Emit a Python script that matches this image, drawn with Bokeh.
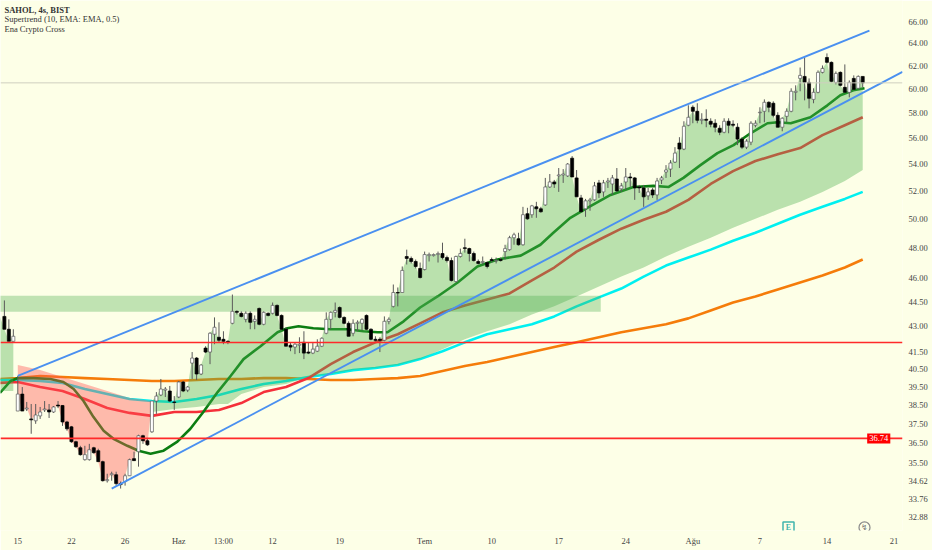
from bokeh.plotting import figure
from bokeh.models import Range1d, FixedTicker, NumeralTickFormatter, Span, Label
from bokeh.embed import file_html
from bokeh.resources import INLINE

bars = list(range(-3, 190))
opens = [43.61,42.83,42.11,
38.18,39.10,38.29,37.76,37.66,37.92,38.24,38.24,38.13,38.50,
38.48,37.60,37.34,36.57,36.26,35.66,35.66,36.26,36.11,35.56,
34.62,34.91,34.91,34.48,34.58,34.86,35.71,36.06,36.88,36.62,
37.08,38.72,39.05,39.32,39.27,38.67,38.94,39.77,39.32,40.84,
41.13,40.22,41.71,41.48,42.53,42.35,42.23,42.11,43.19,43.92,
43.80,43.43,43.80,43.31,44.10,43.13,43.80,43.80,44.29,43.67,
42.83,41.88,41.77,41.88,42.05,41.48,41.42,41.53,41.82,42.59,
43.43,43.86,44.16,43.55,43.19,42.59,43.19,43.19,43.67,42.83,
42.23,42.23,42.17,43.31,44.23,45.10,45.10,47.44,47.31,47.11,
46.65,46.58,47.50,47.50,47.57,47.64,47.37,47.17,45.80,47.44,
48.03,47.97,47.64,47.11,47.04,47.04,47.24,47.14,47.24,47.77,
47.90,48.71,48.64,48.23,50.38,50.31,50.87,50.73,51.01,52.31,
52.68,53.13,53.20,53.13,54.47,52.98,51.51,50.73,51.30,51.37,
52.61,51.95,52.68,52.53,52.90,52.17,52.68,53.05,52.98,52.31,
52.24,51.66,52.09,51.73,52.83,53.42,53.64,54.17,55.64,55.17,
57.05,58.51,58.18,57.45,57.53,57.37,57.21,56.81,56.49,57.37,
57.13,56.89,55.95,55.32,55.71,57.05,58.06,58.18,58.92,58.84,
57.85,56.89,57.77,58.18,59.75,60.93,61.10,60.59,59.16,59.75,
61.45,62.75,62.32,60.59,61.45,60.17,59.75,60.93,60.09,61.10]
highs = [44.60,43.43,42.83,
40.11,39.49,38.67,38.56,38.56,38.40,38.72,38.56,38.45,38.72,
38.50,37.66,37.39,36.62,36.36,36.36,36.46,36.31,36.21,35.61,
34.96,35.06,35.06,34.58,34.96,35.71,36.06,36.93,36.93,36.72,
38.72,39.21,39.94,39.49,39.55,38.99,39.83,39.83,39.55,41.48,
41.19,40.78,41.82,42.65,43.55,43.25,42.71,42.17,44.97,43.98,
43.92,43.92,43.92,43.67,44.16,43.92,43.86,44.47,44.35,43.73,
42.95,42.05,42.05,42.35,42.71,42.05,42.05,42.23,42.35,43.86,
43.92,44.47,44.23,43.61,43.31,43.43,43.37,43.49,43.73,42.89,
42.41,42.35,43.61,43.55,45.61,45.42,46.78,47.90,47.44,47.24,
47.04,47.77,47.70,47.64,47.77,48.37,47.50,47.37,47.50,47.97,
48.64,48.03,47.77,47.24,47.44,47.11,47.37,47.37,47.37,48.23,
48.84,49.05,49.05,50.87,50.80,51.01,51.23,50.87,52.98,53.27,
52.83,53.72,53.64,54.10,54.63,53.57,51.73,51.44,51.51,52.68,
52.83,52.83,52.98,53.20,53.72,52.61,53.72,53.35,53.05,52.46,
52.46,52.24,52.24,52.98,53.13,53.94,54.32,55.32,56.10,57.37,
58.67,58.67,58.84,58.02,58.34,57.61,57.53,57.05,57.61,57.61,
57.45,57.21,56.10,55.95,57.37,57.45,58.51,59.16,59.00,59.00,
58.10,57.69,58.42,60.09,60.34,61.87,62.75,60.93,60.09,61.62,
62.05,63.11,62.40,61.53,61.53,62.14,60.76,61.19,61.19,61.10]
lows = [42.83,42.11,42.11,
38.18,38.18,38.18,36.98,37.50,37.76,38.13,37.81,38.08,38.34,
37.39,37.14,36.51,36.26,35.86,35.61,35.61,35.96,35.56,34.58,
34.53,34.62,34.38,34.24,34.38,34.86,35.61,35.31,36.46,36.36,
37.03,38.03,38.99,38.94,38.67,38.24,38.88,39.21,39.21,39.94,
39.88,40.16,41.42,40.78,41.94,42.05,41.94,41.94,43.13,43.73,
43.55,43.25,42.83,42.83,43.07,43.07,43.61,43.73,43.61,42.77,
41.82,41.53,41.36,41.42,41.07,41.36,41.36,41.48,41.77,42.53,
42.83,43.55,43.49,43.13,42.41,42.41,42.71,42.77,42.77,42.17,
42.11,41.48,42.11,43.13,44.16,44.23,45.10,46.91,46.98,46.65,
46.00,46.52,47.11,47.44,47.04,47.24,47.04,45.80,45.74,47.37,
47.70,47.11,47.11,46.91,46.91,46.65,47.04,46.98,47.11,47.24,
47.83,48.23,48.17,48.17,49.95,50.09,50.09,50.45,50.94,52.24,
52.24,51.95,52.61,53.05,53.05,51.59,50.52,50.16,50.59,51.30,
51.51,51.59,52.24,51.73,51.95,51.95,52.09,52.31,51.37,51.87,
50.87,51.37,51.51,51.37,52.53,52.98,53.05,54.10,53.72,55.09,
56.97,57.21,57.21,57.13,56.89,56.89,56.49,56.26,56.41,56.41,
56.89,55.48,55.17,55.17,55.48,56.89,57.21,57.29,58.10,57.69,
56.89,56.57,57.29,58.10,59.08,59.84,59.08,58.42,58.84,59.67,
61.36,62.23,60.59,60.42,60.26,59.75,59.33,59.92,60.00,60.17]
closes = [42.83,42.11,42.41,
39.10,38.18,38.34,37.71,37.97,38.13,38.29,38.13,38.40,38.45,
37.60,37.24,36.57,36.31,35.91,35.91,36.16,36.01,35.56,34.62,
34.67,34.96,34.48,34.43,34.86,35.66,35.61,36.88,36.62,36.41,
38.72,38.99,39.38,39.38,38.72,38.64,39.77,39.27,39.49,41.13,
40.22,40.73,41.48,42.59,42.95,42.17,42.11,42.05,43.92,43.86,
43.61,43.80,43.25,43.43,43.13,43.86,43.67,44.29,43.67,42.83,
41.82,41.77,41.94,41.94,41.42,41.42,41.65,41.82,42.29,43.43,
43.86,43.98,43.55,43.19,42.41,43.19,43.25,43.43,42.83,42.23,
42.17,42.17,43.31,43.43,45.10,45.07,46.52,47.31,47.11,46.78,
46.06,47.57,47.57,47.57,47.64,47.37,47.17,45.87,47.44,47.64,
47.97,47.64,47.17,46.98,47.11,46.78,47.17,47.17,47.17,47.97,
48.71,48.91,48.23,50.31,50.02,50.94,50.73,50.52,52.31,52.68,
52.53,53.20,53.27,54.02,53.05,51.59,50.52,51.30,51.37,52.39,
51.87,52.61,52.75,52.98,52.02,52.39,53.05,52.98,52.24,52.24,
51.59,51.95,51.73,52.75,52.98,53.57,54.10,54.86,55.17,56.97,
57.69,58.18,57.45,57.53,57.45,57.13,56.89,56.49,57.37,57.05,
57.05,55.95,55.32,55.79,57.21,57.21,58.10,58.92,58.51,57.85,
56.89,57.61,58.18,59.84,59.84,61.19,60.59,59.25,59.75,61.45,
61.79,62.32,60.68,61.36,60.34,59.75,60.59,60.00,61.10,60.55]

ma_bars = [-4] + list(range(0, 190, 5)) + [189]
ma_red = [39.72,39.77,39.49,39.27,38.83,38.34,38.08,37.92,38.13,38.13,38.24,38.61,39.21,39.49,39.99,40.78,41.48,42.05,42.53,43.19,
          43.86,44.29,44.66,45.04,45.87,46.71,47.77,48.57,49.33,49.95,50.52,51.37,52.53,53.49,54.25,54.78,55.25,56.26,57.05,57.69]
ma_cyan = [39.88,39.88,39.83,39.72,39.38,39.10,38.83,38.72,38.67,38.83,39.05,39.38,39.66,39.83,40.05,40.22,40.44,40.56,40.73,41.07,
           41.53,42.05,42.53,42.83,43.13,43.61,44.23,44.79,45.35,46.12,46.84,47.37,47.90,48.50,49.05,49.67,50.31,50.87,51.44,51.95]
ma_orange = [39.94,39.99,40.11,40.05,39.99,39.94,39.88,39.83,39.83,39.88,39.94,39.94,39.99,39.99,39.94,39.88,39.88,39.94,39.99,40.11,
             40.39,40.67,40.90,41.19,41.48,41.77,42.05,42.35,42.65,42.89,43.13,43.49,43.98,44.47,44.85,45.29,45.74,46.19,46.71,47.24]
green_bars = [-4,-1.6,0,3.5,7.3,10.2,12.5,14.7,16.9,19.2,21.4,24.5,27,29.7,32.6,35.7,38.6,41.5,44.7,47.6,50.5,54.3,58.1,60.3,62.8,
              66.1,69.9,73.8,77.3,80.5,82.7,86.3,90,93.9,98.4,102.8,107.3,112.5,116.9,119.8,123.6,127.4,132.6,137.7,142.2,145.6,
              148.9,152.7,156.5,160.1,163.9,167.7,170,172.9,177.3,181.1,184,186.9,189.4]
ma_green = [39.16,39.83,39.99,39.99,39.94,39.77,39.38,38.72,37.87,37.14,36.72,36.36,36.11,35.96,36.11,36.57,37.24,38.13,39.21,40.11,41.07,41.82,42.65,42.89,43.01,
            42.89,42.83,42.83,42.71,42.65,42.65,43.31,44.16,44.85,45.74,46.78,47.24,47.50,48.23,49.05,50.09,50.80,51.73,52.31,52.39,52.31,
            52.98,53.94,54.86,55.48,56.41,57.21,57.29,57.21,57.69,58.67,59.50,59.92,60.09]

red_band_bars = [30,25,20,15,10,5,0]
red_band = [38.72,38.88,39.27,39.66,40.05,40.44,40.73]
green_band_bars = [189,185,180,175,170,165,160,155,150,145,140,135,130,125,120,115,110,105,100,95,90,85,80,75,70,65,60,55,50,47,45,40,35,30]
green_band = [53.57,52.75,51.95,51.23,50.66,50.02,49.40,48.71,48.10,47.44,46.71,46.12,45.48,44.85,44.23,43.73,43.13,42.71,42.23,41.65,41.07,40.73,40.56,40.44,40.22,40.05,39.66,39.49,39.10,38.56,38.56,38.40,38.29,38.13]
left_band_bars = [-1,-4]
left_band = [39.27,39.27]
left_top_bars = [-4]
left_top = [43.61]

channel_up_bars = [0, 190.5]
channel_up = [40.11, 65.17]
channel_low_bars = [21, 197.9]
channel_low = [34.24, 61.5]
zone_bars = [-4, 130.4]
zone_prices = [43.9, 44.9]
level_prices = [42.04, 36.74]
last_price = 60.55

y_ticks = [66,64,62,60,58,56,54,52,50,48,46,44.5,43,41.5,40.5,39.5,38.5,37.5,36.5,35.5,34.62,33.76,32.88]
x_ticks = [0,12,24,36,46,57,72,91,106,121,136,151,166,181,196]
x_labels = ["15","22","26","Haz","13:00","12","19","Tem","10","17","24","Ağu","7","14","21"]

BG = "#fdffe7"
FONT = "Liberation Sans Narrow"

p = figure(width=932, height=550, output_backend="svg", toolbar_location=None,
           y_axis_type="log", y_axis_location="right",
           x_range=Range1d(-3.87, 197.9), y_range=Range1d(32.28, 67.98),
           min_border_left=0, min_border_top=0, min_border_right=30, min_border_bottom=20,
           background_fill_color=BG, border_fill_color=BG, outline_line_color=None)
p.grid.visible = False

yax = p.yaxis[0]
yax.ticker = FixedTicker(ticks=y_ticks)
yax.formatter = NumeralTickFormatter(format="0.00")
yax.major_tick_line_color = None
yax.minor_tick_line_color = None
yax.major_tick_out = 0
yax.minor_tick_out = 0
yax.major_tick_in = 0
yax.minor_tick_in = 0
yax.axis_line_color = None
yax.major_label_standoff = 6
yax.major_label_text_font = FONT
yax.major_label_text_font_size = "8.5px"
yax.major_label_text_color = "#444444"

xax = p.xaxis[0]
xax.ticker = FixedTicker(ticks=x_ticks)
xax.major_label_overrides = dict(zip(x_ticks, x_labels))
xax.major_tick_line_color = None
xax.minor_tick_line_color = None
xax.major_tick_out = 0
xax.minor_tick_out = 0
xax.major_tick_in = 0
xax.minor_tick_in = 0
xax.axis_line_color = None
xax.major_label_standoff = 5
xax.major_label_text_font = FONT
xax.major_label_text_font_size = "8.5px"
xax.major_label_text_color = "#444444"

p.add_layout(Span(location=last_price, dimension="width", line_color="#cfcfc0", line_width=1))

p.line(ma_bars, ma_orange, line_color="#f57c0a", line_width=2.6, line_join="round")
p.line(ma_bars, ma_cyan, line_color="#00f0f0", line_width=2.6, line_join="round")
p.line(ma_bars, ma_red, line_color="#f5303a", line_width=2.6, line_join="round")
p.line(green_bars, ma_green, line_color="#0b7d12", line_width=2.6, line_join="round")

i0 = bars.index(0)
i30 = bars.index(30)
p.patch(bars[i0:i30 + 1] + red_band_bars, closes[i0:i30 + 1] + red_band,
        fill_color="#ff5252", fill_alpha=0.4, line_color=None)
p.patch(bars[i30:] + green_band_bars, closes[i30:] + green_band,
        fill_color="#4caf50", fill_alpha=0.38, line_color=None)
p.patch(left_top_bars + bars[:3] + left_band_bars, left_top + closes[:3] + left_band,
        fill_color="#4caf50", fill_alpha=0.38, line_color=None)
p.quad(left=[zone_bars[0]], right=[zone_bars[1]], bottom=[zone_prices[0]], top=[zone_prices[1]],
       fill_color="#4caf50", fill_alpha=0.35, line_color=None)

p.segment(bars, lows, bars, highs, line_color="#5a5a5a", line_width=1)
up = [i for i in range(len(bars)) if closes[i] >= opens[i]]
dn = [i for i in range(len(bars)) if closes[i] < opens[i]]
p.vbar([bars[i] for i in up], 0.68, [opens[i] for i in up], [closes[i] for i in up],
       fill_color="#ffffff", line_color="#5a5a5a", line_width=0.7)
p.vbar([bars[i] for i in dn], 0.68, [closes[i] for i in dn], [opens[i] for i in dn],
       fill_color="#000000", line_color="#000000", line_width=0.7)

p.line(channel_up_bars, channel_up, line_color="#4a90f0", line_width=1.9)
p.line(channel_low_bars, channel_low, line_color="#4a90f0", line_width=1.9)

for lvl in level_prices:
    p.add_layout(Span(location=lvl, dimension="width", line_color="#ff2a2a", line_width=1.7))

p.scatter([172.4], [32.42], marker="square", size=11, fill_color=BG, line_color="#3fb5ac", line_width=1.5)
p.text([172.4], [32.42], text=["E"], text_color="#3fb5ac", text_font=FONT, text_font_size="8px",
       text_font_style="bold", text_align="center", text_baseline="middle")
p.scatter([189.4], [32.42], marker="circle", size=11, fill_color=BG, line_color="#8a8a8a", line_width=1.2)
p.text([189.4], [32.42], text=["↯"], text_color="#777777", text_font="DejaVu Sans", text_font_size="8px",
       text_align="center", text_baseline="middle")

# Diagnostic variants for labels outside the frame
p.add_layout(Label(x=905, y=468, x_units="screen", y_units="screen", text="60.55", text_color="#ffffff",
                   text_font=FONT, text_font_size="8.5px", text_baseline="middle",
                   background_fill_color="#000000", padding=2))
p.add_layout(Label(x=199.1, y=42.04, text="42.04", text_color="#ffffff", level="overlay",
                   text_font=FONT, text_font_size="8.5px", text_baseline="middle",
                   background_fill_color="#ff0000", padding=2))
p.add_layout(Label(x=190, y=36.74, text="36.74", text_color="#ffffff",
                   text_font=FONT, text_font_size="8.5px", text_baseline="middle",
                   background_fill_color="#ff0000", padding=2))
p.add_layout(Label(x=201.1, y=67.12, text="TRY", text_color="#444444",
                   text_font=FONT, text_font_size="8.5px", text_baseline="middle", text_align="center"))

for y, text, style in [(67.12, "SAHOL, 4s, BIST", "bold"),
                       (66.19, "Supertrend (10, EMA: EMA, 0.5)", "normal"),
                       (65.27, "Ena Crypto Cross", "normal")]:
    p.add_layout(Label(x=-2.98, y=y, text=text, text_color="#333333", text_font=FONT, text_font_size="8.5px",
                       text_font_style=style, text_baseline="middle", text_align="left"))

open("out.html", "w").write(file_html(p, INLINE))
